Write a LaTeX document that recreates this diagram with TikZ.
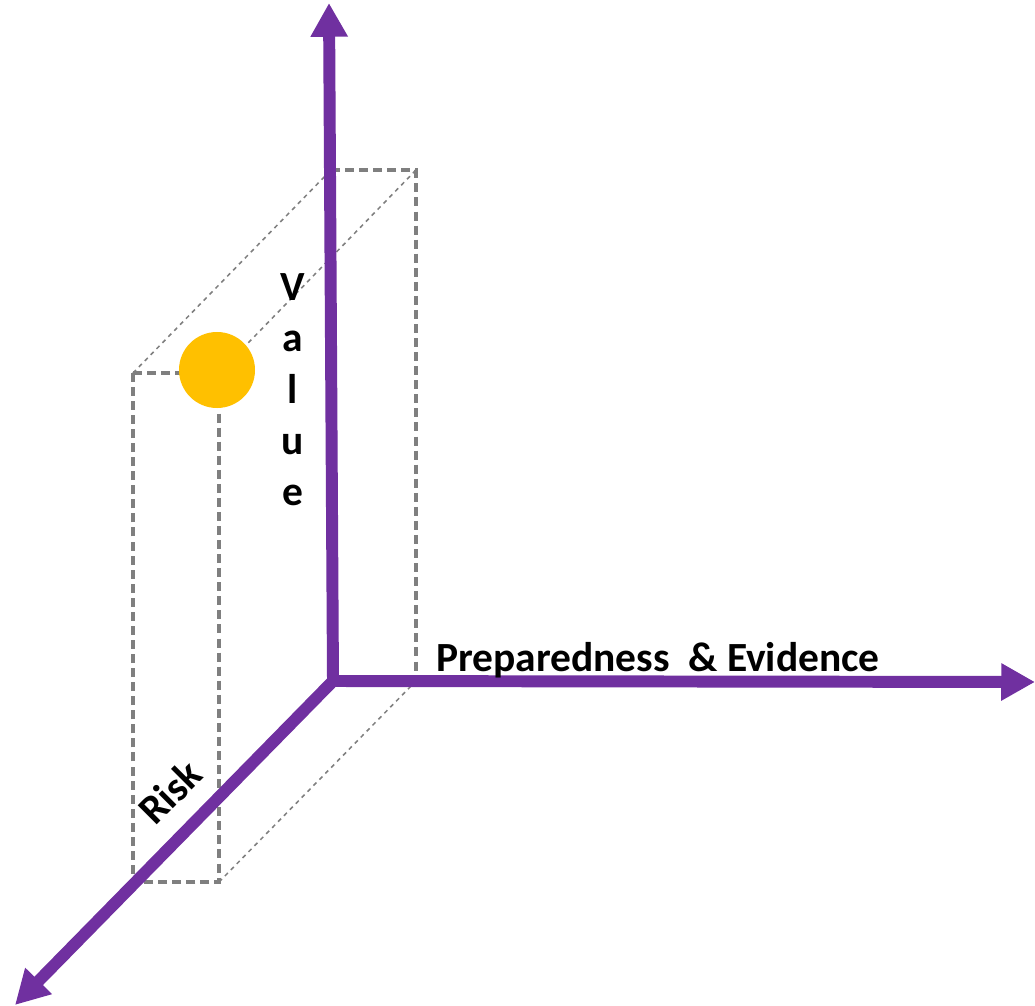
\documentclass[tikz,border=0pt]{standalone}
\usepackage{fontspec}
\setmainfont{Carlito}
\usetikzlibrary{arrows.meta}

\definecolor{axispurple}{HTML}{7030A0}
\definecolor{boxgray}{HTML}{7F7F7F}
\definecolor{dotgold}{HTML}{FFC000}

\begin{document}
\begin{tikzpicture}[x=0.025cm, y=0.025cm,
    axis/.style={draw=axispurple, line width=8.5pt},
    tip/.style={-{Triangle[width=25pt,length=24pt]}},
    boxedge/.style={draw=boxgray, line width=2.4pt, dash pattern=on 6.4pt off 3.6pt},
    boxdiag/.style={draw=boxgray, line width=1.1pt, dash pattern=on 3pt off 3pt},
    dot/.style={circle, fill=dotgold, inner sep=0pt, minimum size=1.9cm},
    axislabel/.style={font=\fontsize{29.5}{36.5}\selectfont\bfseries, inner sep=0pt}]
    \useasboundingbox (0,0) rectangle (1035,-1006);
    % axes end points
    \coordinate (O) at (333,-681);
    \coordinate (vtip) at (329,-3);
    \coordinate (htip) at (1035,-682);
    \coordinate (rtip) at (15,-1005);
    % back face of the box
    \coordinate (b1) at (331,-170);
    \coordinate (b2) at (416,-170);
    \coordinate (b3) at (416,-681);
    \coordinate (b4) at (331,-681);
    % front face of the box
    \coordinate (f1) at (133,-373);
    \coordinate (f2) at (219,-373);
    \coordinate (f3) at (219,-882);
    \coordinate (f4) at (133,-882);
    \draw [boxedge] (b1) -- (b2) -- (b3) -- (b4) -- cycle;
    \draw [boxedge] (f1) -- (f2) -- (f3) -- (f4) -- cycle;
    \draw [boxdiag] (f1) -- (b1);
    \draw [boxdiag] (f2) -- (b2);
    \draw [boxdiag] (f3) -- (b3);
    \draw [boxdiag] (f4) -- (b4);
    \draw [axis, {Triangle[width=25pt,length=24pt]}-{Triangle[width=25pt,length=24pt]}] (vtip) -- (O) -- (htip);
    \draw [axis, tip] (O) -- (rtip);
    \node [dot] (point) at (217,-370) {};
    \node [axislabel, align=center] (value) at (293,-390) {V\\a\\l\\u\\e};
    \node [axislabel] (prep) at (658,-660) {Preparedness~ \& Evidence};
    \node [axislabel, rotate=45] (risk) at (170,-792) {Risk};
\end{tikzpicture}
\end{document}
